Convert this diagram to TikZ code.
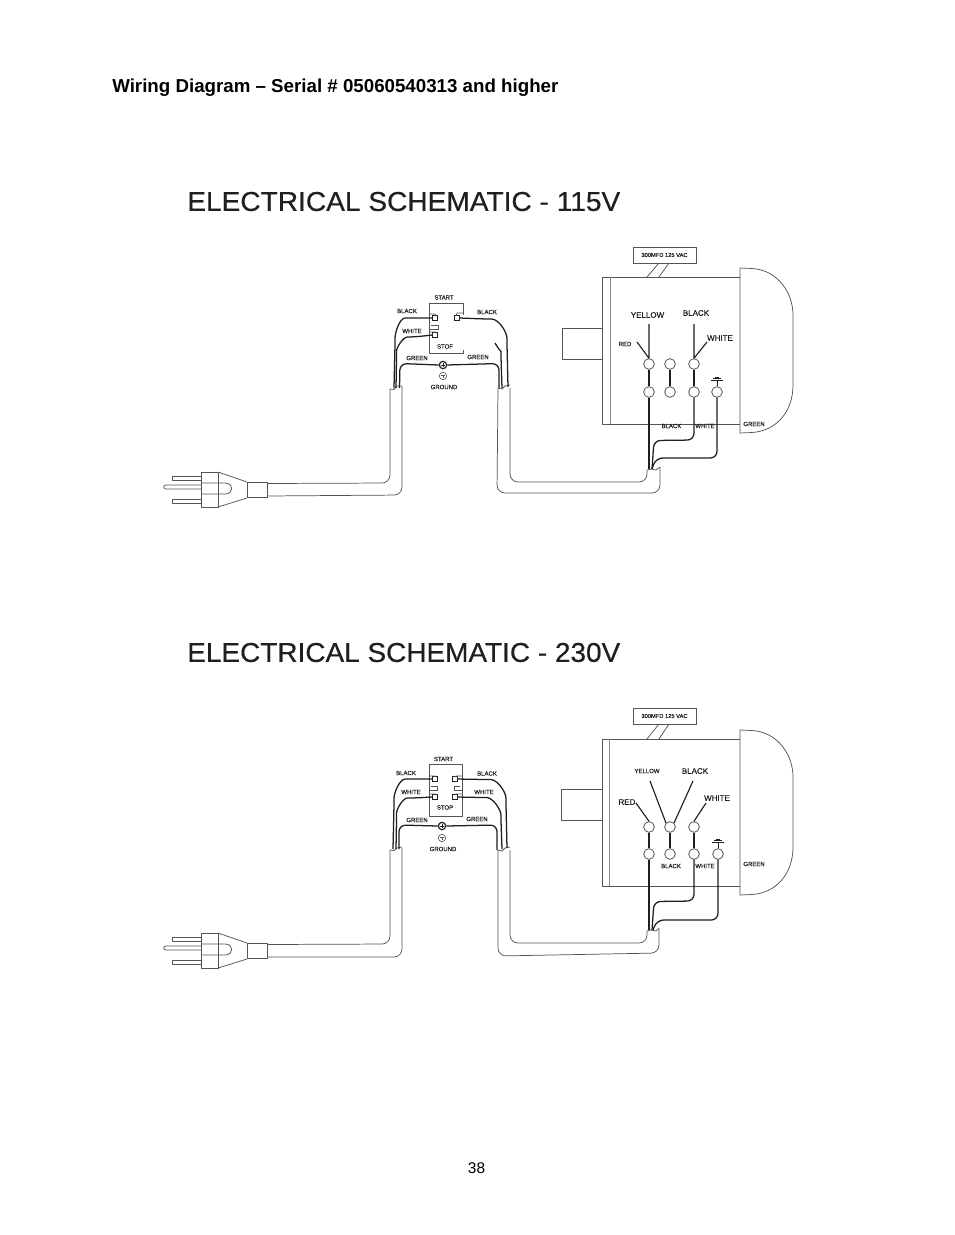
\documentclass[tikz,border=0pt]{standalone}
\usepackage{graphicx}
\usepackage{fontspec}
\setmainfont{Liberation Sans}
\newfontfamily\labfont[FakeBold=0.25]{Liberation Sans}
\newfontfamily\ttlfont[FakeBold=0.45]{Liberation Sans}
\newcommand\lblS{\labfont\fontsize{4.5pt}{5pt}\selectfont}
\newcommand\lblB{\labfont\fontsize{6pt}{7pt}\selectfont}
\newcommand\bigtitle[1]{\resizebox{324.75pt}{14.25pt}{\ttlfont\fontsize{20pt}{20pt}\selectfont #1}}
\definecolor{ink}{gray}{0.12}
\definecolor{outl}{gray}{0.33}
\tikzset{
  x=0.75pt,y=-0.75pt,
  small/.style={font=\lblS,text=ink,inner sep=0pt},
  large/.style={font=\lblB,text=ink,inner sep=0pt},
  term/.style={circle,draw=outl,line width=0.6pt,fill=white,minimum size=8pt,inner sep=0pt},
  outline/.style={draw=outl,line width=0.55pt,line join=round},
  wire/.style={draw=ink,line width=0.95pt,rounded corners=5pt},
  linkwire/.style={draw=ink,line width=0.85pt},
  thinwire/.style={draw=ink,line width=0.6pt},
  sheath/.style={draw=outl,line width=0.55pt,rounded corners=6pt},
  swterm/.style={draw=ink,line width=0.5pt,minimum size=3.4pt,inner sep=0pt},
  capbox/.style={draw=outl,line width=0.6pt,fill=white,minimum width=47.25pt,minimum height=12pt,inner sep=0pt,font=\labfont\fontsize{4.3pt}{5pt}\selectfont,text=ink},
}
\newcommand\plugcord[1]{%
  \begin{scope}[shift={(0,#1)}]
    \draw[outline] (172,476) rectangle (201,480);
    \draw[outline] (172,499) rectangle (201,503);
    \draw[outline] (201,485) -- (166,485) .. controls (163,485) and (163,489) .. (166,489) -- (201,489);
    \draw[outline] (201,472) rectangle (218,507);
    \draw[outline] (218,472) -- (247,482);
    \draw[outline] (218,507) -- (247,498);
    \draw[outline] (247,482) rectangle (267,497);
    \draw[outline] (201,483) -- (225,483) .. controls (234,483) and (234,494) .. (225,494) -- (201,494);
  \end{scope}}
\begin{document}
\begin{tikzpicture}
\useasboundingbox (0,0) rectangle (954,1235);
\fill[white] (0,0) rectangle (954,1235);
\node[anchor=west,inner sep=0pt,font=\bfseries\fontsize{14.04pt}{16pt}\selectfont] (head) at (112,87.5) {Wiring Diagram – Serial \# 05060540313 and higher};
\node[inner sep=0pt,font=\fontsize{11.6pt}{14pt}\selectfont] (pageno) at (476.5,1168) {38};

%% ---------- 115 V ----------
\node[anchor=west,inner sep=0pt,text=ink] (t1) at (187,201.5) {\bigtitle{ELECTRICAL SCHEMATIC - 115V}};
\plugcord{0}
\draw[sheath] (267,483.5) -- (390,483) -- (390,389);
\draw[sheath] (267,496) -- (402,495) -- (402,386);
\draw[outline] (390,389) -- (394,389.5) -- (397,386) -- (402,386);
\draw[sheath] (498,388) -- (497,493) -- (660,493) -- (660,467);
\draw[sheath] (510,388) -- (510,482) -- (647,482) -- (647,470);
\draw[outline] (498,388) -- (502,389) -- (505,386) -- (510,385);
\draw[outline] (647,470) -- (651,469) -- (656,470) -- (660,467);
% switch
\draw[outline] (463,315) -- (463,303) -- (429,303) -- (429,353) -- (463,353) -- (463,350);
\node[swterm] (s1a) at (435,318) {};
\node[swterm] (s1b) at (435,335) {};
\node[swterm] (s1c) at (457,318) {};
\draw[outline] (429,314) -- (435,314) -- (436,316);
\draw[outline] (429,332) -- (435,332) -- (436,333);
\draw[outline] (429,329) -- (438,329) -- (438,325) -- (431,325);
\draw[outline] (463,313) -- (457,313) -- (456,316);
\draw[wire] (s1a.west) -- (412,318) to[out=180,in=90] (395,345) -- (394,388);
\draw[wire] (s1b.west) -- (414,337) to[out=180,in=90] (396.5,358) -- (396,388);
\draw[wire] (s1c.east) -- (485,319) to[out=0,in=90] (507,345) -- (508,387);
\draw[wire] (495,343) to[out=-60,in=90] (501,358) -- (502,388);
\node[circle,draw=ink,line width=0.9pt,fill=white,minimum size=5.5pt,inner sep=0pt] (g1) at (443,365) {};
\draw[wire] (399.5,388) -- (400,363.5) -- (g1.west);
\draw[wire] (g1.east) -- (499,363.5) -- (499,388);
\draw[thinwire] (441,365) -- (445,365) (443,363) -- (443,367);
\node[circle,draw=outl,line width=0.45pt,minimum size=5.5pt,inner sep=0pt] (g1b) at (443,376) {};
\draw[outline] (441,375) -- (445,375) (443,375) -- (443,378);
\node[small] at (444,297.5) {START};
\node[small] at (445,346.5) {STOF};
\node[small] at (407,311) {BLACK};
\node[small] at (412,331) {WHITE};
\node[small] at (487,312) {BLACK};
\node[small] at (417,358) {GREEN};
\node[small] at (478,357) {GREEN};
\node[small] at (444,387) {GROUND};
% motor
\draw[outline] (602,277) rectangle (740,424);
\draw[outline,draw=outl!70] (610,277) -- (610,424);
\draw[outline] (602,328) -- (562,328) -- (562,359) -- (602,359);
\draw[outline,fill=white] (740,268) -- (752,268.5) .. controls (778,270) and (793,293) .. (793,315) -- (793,385) .. controls (793,412) and (776,431) .. (752,432.5) -- (740,433) -- cycle;
\node[capbox] (c1) at (664.5,255) {300MFD 125 VAC};
\coordinate (c1a) at (647,277); \coordinate (c1b) at (659,277);
\draw[outline] (c1a) -- (659,263) (c1b) -- (669,263);
\node[term] (a1) at (649,364) {}; \node[term] (b1) at (670,364) {}; \node[term] (d1) at (694,364) {};
\node[term] (e1) at (649,392) {}; \node[term] (f1) at (670,392) {}; \node[term] (h1) at (694,392) {}; \node[term] (j1) at (717,392) {};
\coordinate (y1) at (649,324); \coordinate (r1) at (637,342); \coordinate (k1) at (694,324); \coordinate (w1) at (707,342);
\draw[linkwire] (y1) -- (a1.north) (r1) -- (a1.north) (k1) -- (d1.north) (w1) -- (d1.north);
\draw[linkwire] (a1.south) -- (e1.north) (b1.south) -- (f1.north) (d1.south) -- (h1.north);
\coordinate (m1) at (652,469);
\draw[wire] (e1.south) -- (649,469);
\draw[wire] (h1.south) -- (694,440) -- (654,440.5) -- (652,469);
\draw[wire] (j1.south) -- (717,458) -- (656,458) -- (m1);
\draw[thinwire] (j1.north) -- (717,380);
\draw[thinwire] (711,380) -- (723,380) (713,378.5) -- (721,378.5) (715,377) -- (719,377);
\node[large] at (647.5,315) {YELLOW};
\node[large] at (696,313) {BLACK};
\node[large] at (720,338) {WHITE};
\node[small] at (625,344) {RED};
\node[small] at (671.5,426) {BLACK};
\node[small] at (705,426) {WHITE};
\node[small] at (754,424) {GREEN};

%% ---------- 230 V ----------
\node[anchor=west,inner sep=0pt,text=ink] (t2) at (187,652.5) {\bigtitle{ELECTRICAL SCHEMATIC - 230V}};
\plugcord{461}
\draw[sheath] (267,944.5) -- (390,944) -- (390,850);
\draw[sheath] (267,957) -- (402,957) -- (402,848);
\draw[outline] (390,850) -- (394,850.5) -- (397,848) -- (402,847);
\draw[sheath] (498,850) -- (498,956) -- (659,953) -- (659,929);
\draw[sheath] (510,850) -- (510,943) -- (647,943) -- (647,931);
\draw[outline] (498,850) -- (502,851) -- (505,848) -- (510,847);
\draw[outline] (647,931) -- (651,930) -- (656,931) -- (659,928);
% switch
\draw[outline] (429,764) rectangle (462,816);
\node[swterm] (s2a) at (435,779) {};
\node[swterm] (s2b) at (435,797) {};
\node[swterm] (s2c) at (455,779) {};
\node[swterm] (s2d) at (455,797) {};
\draw[outline] (429,776) -- (435,776) -- (436,777);
\draw[outline] (429,794) -- (435,794) -- (436,795);
\draw[outline] (429,790) -- (437,790) -- (437,786) -- (431,786);
\draw[outline] (462,776) -- (456,776) -- (455,777);
\draw[outline] (462,794) -- (456,794) -- (455,795);
\draw[outline] (462,790) -- (454,790) -- (454,786) -- (460,786);
\draw[wire] (s2a.west) -- (412,779) to[out=180,in=90] (394,805) -- (393,849);
\draw[wire] (s2b.west) -- (414,798) to[out=180,in=90] (396.5,820) -- (396,849);
\draw[wire] (s2c.east) -- (484,779.5) to[out=0,in=90] (506,805) -- (507,848);
\draw[wire] (s2d.east) -- (480,797.5) to[out=0,in=90] (501,822) -- (502,849);
\node[circle,draw=ink,line width=0.9pt,fill=white,minimum size=5.5pt,inner sep=0pt] (g2) at (442,826) {};
\draw[wire] (399,849) -- (399,825) -- (g2.west);
\draw[wire] (g2.east) -- (497,825) -- (497,850);
\draw[thinwire] (440,826) -- (444,826) (442,824) -- (442,828);
\node[circle,draw=outl,line width=0.45pt,minimum size=5.5pt,inner sep=0pt] (g2b) at (442,838) {};
\draw[outline] (440,837) -- (444,837) (442,837) -- (442,840);
\node[small] at (443.5,759) {START};
\node[small] at (445,807.5) {STOP};
\node[small] at (406,773) {BLACK};
\node[small] at (411,792) {WHITE};
\node[small] at (487,773.5) {BLACK};
\node[small] at (484,792) {WHITE};
\node[small] at (417,820) {GREEN};
\node[small] at (477,819) {GREEN};
\node[small] at (443,849) {GROUND};
% motor
\draw[outline] (602,739) rectangle (740,886);
\draw[outline,draw=outl!70] (609,739) -- (609,886);
\draw[outline] (602,789) -- (561,789) -- (561,820) -- (602,820);
\draw[outline,fill=white] (740,730) -- (752,730.5) .. controls (778,732) and (793,755) .. (793,777) -- (793,847) .. controls (793,874) and (776,893) .. (752,894.5) -- (740,895) -- cycle;
\node[capbox] (c2) at (664.5,716) {300MFD 125 VAC};
\coordinate (c2a) at (647,739); \coordinate (c2b) at (659,739);
\draw[outline] (c2a) -- (659,724) (c2b) -- (669,724);
\node[term] (a2) at (649,827) {}; \node[term] (b2) at (670,827) {}; \node[term] (d2) at (694,827) {};
\node[term] (e2) at (649,854) {}; \node[term] (f2) at (670,854) {}; \node[term] (h2) at (694,854) {}; \node[term] (j2) at (718,854) {};
\coordinate (y2) at (650,781); \coordinate (r2) at (636,803); \coordinate (k2) at (693,781); \coordinate (w2) at (706,803);
\draw[linkwire] (r2) -- (a2.north) (y2) -- (b2.north west) (k2) -- (b2.north east) (w2) -- (d2.north);
\draw[linkwire] (a2.south) -- (e2.north) (b2.south) -- (f2.north) (d2.south) -- (h2.north);
\coordinate (m2) at (653,930);
\draw[wire] (e2.south) -- (649,930);
\draw[wire] (h2.south) -- (694,901) -- (654,901.5) -- (652,930);
\draw[wire] (j2.south) -- (718,920) -- (657,920) -- (m2);
\draw[thinwire] (j2.north) -- (718,842);
\draw[thinwire] (712,842) -- (724,842) (714,840.5) -- (722,840.5) (716,839) -- (720,839);
\node[small] at (647,771) {YELLOW};
\node[large] at (695,771) {BLACK};
\node[large] at (627,802) {RED};
\node[large] at (717,798) {WHITE};
\node[small] at (671,866) {BLACK};
\node[small] at (705,866) {WHITE};
\node[small] at (754,864) {GREEN};
\end{tikzpicture}
\end{document}
